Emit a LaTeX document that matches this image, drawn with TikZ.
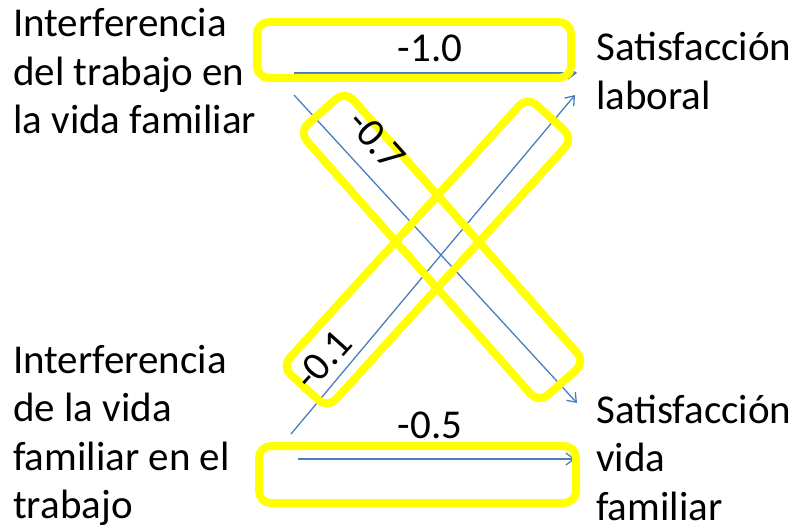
\documentclass[tikz,border=0pt]{standalone}
\usepackage{fontspec}
\setmainfont{Carlito}
\usetikzlibrary{arrows.meta}
\definecolor{arrowblue}{RGB}{74,126,187}
\definecolor{hilite}{RGB}{255,255,0}
\begin{document}
\begin{tikzpicture}[x=1pt,y=-1pt,
  lbl/.style={font=\fontsize{41}{48.5}\selectfont, inner sep=0pt, anchor=base west},
  conn/.style={draw=arrowblue, line width=1.3pt, -{Straight Barb[length=8pt,width=12pt]}},
  hl/.style={draw=hilite, line width=8pt, rounded corners=12pt, inner sep=0pt},
  coef/.style={font=\fontsize{41}{48}\selectfont, inner sep=0pt}]
\useasboundingbox (0,0) rectangle (799,529);

% text blocks
\node[lbl] (wf) at (13,37) {\vtop{\hbox{Interferencia}\hbox{del trabajo en}\hbox{la vida familiar}}};
\node[lbl] (fw) at (13,373) {\vtop{\hbox{Interferencia}\hbox{de la vida}\hbox{familiar en el}\hbox{trabajo}}};
\node[lbl] (sl) at (596,61) {\vtop{\hbox{Satisfacción}\hbox{laboral}}};
\node[lbl] (sf) at (596,423) {\vtop{\hbox{Satisfacción}\hbox{vida}\hbox{familiar}}};

% connector ends
\coordinate (wfA) at (294,73);
\coordinate (wfB) at (294,95);
\coordinate (fwA) at (291,434);
\coordinate (fwB) at (298,459);
\coordinate (slA) at (577,73);
\coordinate (slB) at (575,95);
\coordinate (sfA) at (577,403);
\coordinate (sfB) at (575,459);

\draw[conn] (wfA) -- (slA);
\draw[conn] (wfB) -- (sfA);
\draw[conn] (fwA) -- (slB);
\draw[conn] (fwB) -- (sfB);

% highlight boxes
\node[hl, minimum width=314pt, minimum height=56pt] (h1) at (414,50) {};
\node[hl, minimum width=317pt, minimum height=57pt] (h2) at (417.5,474.5) {};
\node[hl, minimum width=362pt, minimum height=62pt, rotate=-48.5] (h3) at (442,247) {};
\node[hl, minimum width=365pt, minimum height=62pt, rotate=47.7] (h4) at (427.5,252.5) {};

% coefficients
\node[coef, anchor=base] (c1) at (430,62) {-1.0};
\node[coef, anchor=base] (c2) at (430,438) {-0.5};
\node[coef, rotate=-48] (c3) at (377,140) {-0.7};
\node[coef, rotate=48] (c4) at (323,360) {-0.1};
\end{tikzpicture}
\end{document}
